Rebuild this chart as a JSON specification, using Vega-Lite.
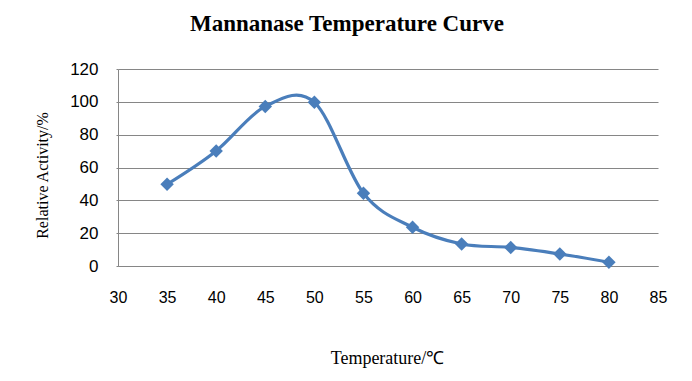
{
  "$schema": "https://vega.github.io/schema/vega-lite/v6.json",
  "width": 540,
  "height": 197,
  "autosize": {"type": "none"},
  "padding": {"left": 118, "top": 69, "right": 34, "bottom": 115},
  "background": "white",
  "title": {
    "text": "Mannanase Temperature Curve",
    "font": "Liberation Serif",
    "fontSize": 23,
    "fontWeight": "bold",
    "color": "#000000",
    "anchor": "start",
    "frame": "group",
    "dx": 72,
    "offset": 24
  },
  "data": {
    "values": [
      {"t": 35, "a": 49.8},
      {"t": 40, "a": 70.1},
      {"t": 45, "a": 97.2},
      {"t": 50, "a": 99.7},
      {"t": 55, "a": 44.3},
      {"t": 60, "a": 23.6},
      {"t": 65, "a": 13.4},
      {"t": 70, "a": 11.3},
      {"t": 75, "a": 7.3},
      {"t": 80, "a": 2.3}
    ]
  },
  "config": {
    "view": {"stroke": null},
    "axis": {
      "labelFont": "Liberation Sans",
      "labelColor": "#000000",
      "titleFont": "Liberation Serif",
      "titleFontWeight": "normal",
      "titleColor": "#000000",
      "domainColor": "#868686",
      "gridColor": "#868686",
      "tickColor": "#868686"
    }
  },
  "encoding": {
    "x": {
      "field": "t",
      "type": "quantitative",
      "scale": {"domain": [30, 85], "nice": false, "zero": false},
      "axis": {
        "values": [30, 35, 40, 45, 50, 55, 60, 65, 70, 75, 80, 85],
        "grid": false,
        "ticks": false,
        "labelFontSize": 16,
        "labelPadding": 23,
        "labelFlush": false,
        "title": "Temperature/℃",
        "titleFontSize": 18,
        "titleX": 269,
        "titleY": 97,
        "titleBaseline": "alphabetic"
      }
    },
    "y": {
      "field": "a",
      "type": "quantitative",
      "scale": {"domain": [0, 120], "nice": false},
      "axis": {
        "values": [0, 20, 40, 60, 80, 100, 120],
        "grid": true,
        "ticks": true,
        "tickSize": 2,
        "labelFontSize": 17,
        "labelPadding": 18,
        "title": "Relative Activity/%",
        "titleFontSize": 16,
        "titleX": -76,
        "titleY": 106,
        "titleAngle": -90,
        "titleBaseline": "middle",
        "titleAlign": "center"
      }
    }
  },
  "layer": [
    {
      "mark": {"type": "line", "interpolate": "cardinal", "color": "#4A7EBB", "strokeWidth": 3.2}
    },
    {
      "mark": {"type": "point", "shape": "diamond", "filled": true, "size": 180, "color": "#4A7EBB", "opacity": 1}
    }
  ]
}
